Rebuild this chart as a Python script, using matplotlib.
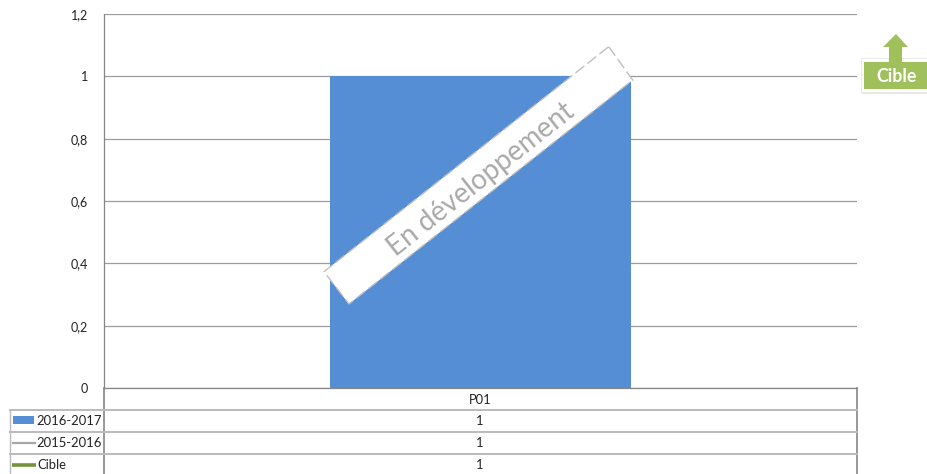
import matplotlib.pyplot as plt
from matplotlib.patches import Polygon, Rectangle

FONT = "Lato"
W, H = 928, 474

categories = ["P01"]
series_names = ["2016-2017", "2015-2016", "Cible"]
values_2016 = [1]
values_2015 = [1]
values_cible = [1]
y_ticks = [0, 0.2, 0.4, 0.6, 0.8, 1, 1.2]
y_labels = ["0", "0,2", "0,4", "0,6", "0,8", "1", "1,2"]
ribbon_text = "En développement"
badge_text = "Cible"

BLUE = "#558ed5"
GREY_LINE = "#a6a6a6"
GREEN_LINE = "#76923c"
BADGE_GREEN = "#9fc05a"
AXIS = "#868686"
GRID = "#9c9c9c"
ROW = "#bbbbbb"
TEXT = "#222222"

plt.rcParams["font.family"] = [FONT, "DejaVu Sans"]

fig = plt.figure(figsize=(W / 100, H / 100), dpi=100)

# plot area, in pixels of the picture
left, right, top, bottom = 104, 857, 14, 388
ax = fig.add_axes([left / W, 1 - bottom / H, (right - left) / W, (bottom - top) / H])
ax.bar(categories, values_2016, width=0.4, color=BLUE, zorder=3)
ax.set_xlim(-0.5, 0.5)
ax.set_ylim(0, 1.2)
ax.set_yticks(y_ticks, y_labels)
ax.set_xticks([])
ax.grid(axis="y", color=GRID, lw=0.9, zorder=1)
ax.tick_params(axis="y", length=0, pad=11.5, labelsize=9, labelcolor=TEXT)
for name, spine in ax.spines.items():
    spine.set_visible(name == "bottom" or name == "left")
    spine.set_color(AXIS)
    spine.set_linewidth(0.9)

# overlay in picture pixels for the data table and the shapes
over = fig.add_axes([0, 0, 1, 1], facecolor="none")
over.set_xlim(0, W)
over.set_ylim(H, 0)
over.axis("off")

# data table
row_y = [409.5, 431.5, 453.5]
row_bottom = 474
over.plot([left, left], [bottom, row_bottom], color=AXIS, lw=1.2)
over.plot([right, right], [bottom, row_bottom], color=AXIS, lw=1.2)
over.plot([10, 10], [row_y[0], row_bottom], color=ROW, lw=1)
for y in row_y:
    over.plot([10, right], [y, y], color=ROW, lw=1.4)

center = (left + right) / 2
over.text(center - 0.5, 399.5, categories[0], ha="center", va="center", fontsize=9.3, color=TEXT)
columns = [values_2016, values_2015, values_cible]
label_x = [36, 36, 37]
for y, name, vals, x in zip(row_y, series_names, columns, label_x):
    over.text(center - 0.5, y + 11.5, str(vals[0]), ha="center", va="center", fontsize=9.3, color=TEXT)
    over.text(x, y + 11.5, name, ha="left", va="center", fontsize=9.4, color=TEXT)

over.add_patch(Rectangle((13, 416), 21, 8, color=BLUE, lw=0))
over.plot([13, 35], [442.5, 442.5], color=GREY_LINE, lw=1.6)
over.plot([12, 36], [464.5, 464.5], color=GREEN_LINE, lw=2.6, solid_capstyle="butt")

# "En développement" ribbon
corners = [(608.7, 46.7), (632.7, 80), (349, 304), (324, 271.7)]
over.add_patch(Polygon(corners, closed=True, fc="white", ec="#bfbfbf", lw=1, ls=(0, (8, 3)), zorder=5))
over.text(481.5, 180, ribbon_text, rotation=38.3, rotation_mode="anchor", ha="center", va="center",
          fontsize=20, color="#a9a9a9", zorder=6)

# Cible badge
over.add_patch(Rectangle((862, 61), 70, 33, fc="#d9d9d9", lw=0, alpha=0.6, zorder=4))
over.add_patch(Rectangle((861, 58), 70, 34, fc="white", ec="#e6e6e6", lw=0.6, zorder=5))
over.add_patch(Rectangle((864, 62), 66, 27, fc=BADGE_GREEN, lw=0, zorder=6))
arrow = [(896, 34), (908, 47), (902, 47), (902, 62), (889, 62), (889, 47), (883, 47)]
over.add_patch(Polygon(arrow, closed=True, fc=BADGE_GREEN, lw=0, zorder=6))
over.text(896.5, 76, badge_text, ha="center", va="center", fontsize=12.8, fontweight="bold", color="white", zorder=7)

fig.savefig("out.png", dpi=100)
